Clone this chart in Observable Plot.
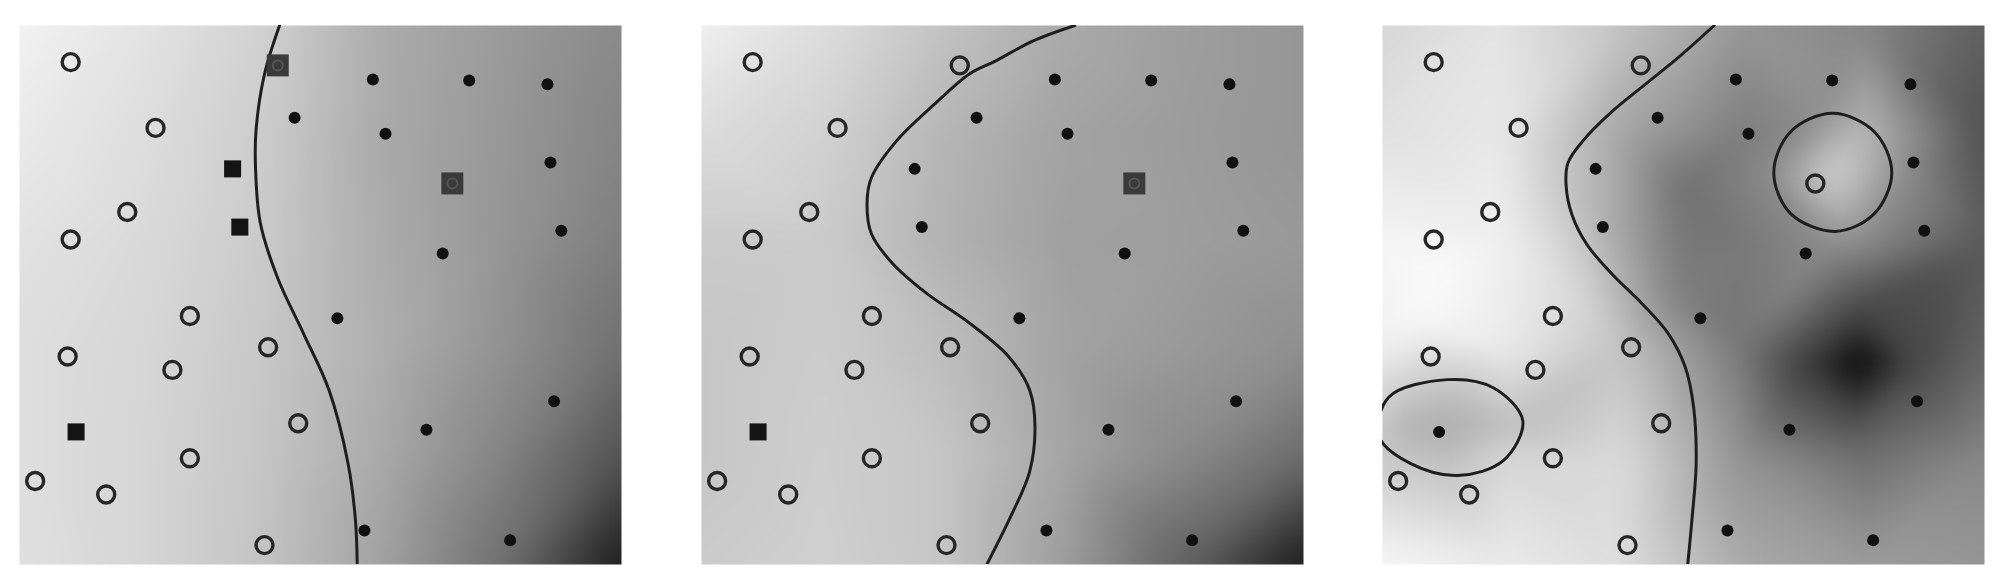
<!DOCTYPE html>
<html lang="en">
<head>
<meta charset="UTF-8">
<title>Decision boundaries</title>
<script src="https://cdn.jsdelivr.net/npm/d3@7"></script>
<script src="https://cdn.jsdelivr.net/npm/@observablehq/plot@0.6"></script>
<style>
  body { margin: 0; background: #fff; }
  #charts { position: relative; width: 2007px; height: 584px; }
  .panel { position: absolute; }
</style>
</head>
<body>
<div id="charts"></div>
<script>
// every panel uses a 0..10 square, y pointing up
const openPts = [
  [0.85, 9.32], [2.26, 8.10], [1.79, 6.54], [0.85, 6.03], [2.83, 4.61],
  [0.80, 3.86], [4.13, 4.03], [2.54, 3.61], [4.63, 2.62], [2.83, 1.97],
  [0.26, 1.55], [1.44, 1.30], [4.07, 0.36], [4.29, 9.26], [7.19, 7.07]
];
const filledPts = [
  [5.87, 9.00], [7.47, 8.98], [8.77, 8.91], [4.57, 8.29], [6.08, 7.99],
  [8.82, 7.46], [9.00, 6.19], [7.03, 5.77], [5.28, 4.57], [8.88, 3.03],
  [6.76, 2.50], [5.73, 0.63], [8.15, 0.45], [3.54, 7.34], [3.66, 6.26],
  [0.94, 2.46]
];

// misclassified points per panel
const wrongOpen = [[[4.29, 9.26], [7.19, 7.07]], [[7.19, 7.07]], []];
const wrongFilled = [[[3.54, 7.34], [3.66, 6.26], [0.94, 2.46]], [[0.94, 2.46]], []];

// decision boundaries
const bound1 = [[4.32, 10], [4.07, 9.10], [3.93, 8.07], [3.92, 7.38], [4.00, 6.34], [4.29, 5.31],
  [4.72, 4.28], [5.14, 3.24], [5.46, 1.86], [5.58, 0.83], [5.61, 0]];
const bound2 = [[6.20, 10], [5.52, 9.72], [4.88, 9.34], [4.45, 9.10], [3.88, 8.55], [3.24, 7.86],
  [2.82, 7.17], [2.75, 6.70], [2.82, 6.14], [3.17, 5.59], [3.74, 5.03], [4.45, 4.48],
  [5.10, 3.86], [5.45, 3.24], [5.54, 2.55], [5.45, 1.72], [5.17, 0.97], [4.74, 0]];
const bound3 = [[5.51, 10], [4.96, 9.45], [4.39, 8.93], [3.82, 8.41], [3.33, 7.86], [3.08, 7.45],
  [3.05, 7.03], [3.15, 6.48], [3.40, 5.93], [3.82, 5.38], [4.32, 4.83], [4.75, 4.28],
  [5.03, 3.66], [5.17, 2.90], [5.21, 1.86], [5.14, 0.83], [5.07, 0]];
const ring3 = [[7.48, 8.37], [8.17, 8.03], [8.46, 7.27], [8.17, 6.51], [7.52, 6.18],
  [6.78, 6.51], [6.50, 7.27], [6.78, 8.03]];
const blob3 = [[1.08, 3.43], [1.84, 3.28], [2.33, 2.67], [2.01, 1.93], [1.25, 1.65],
  [0.47, 1.87], [-0.05, 2.36], [0.10, 3.10]];

// background grey (0 black .. 255 white) sampled on a grid
const gridU = [0, 2, 4, 6, 8, 10];
const gridV = [10, 8, 6, 4, 2, 0];
const shade1 = [
  [242, 228, 210, 172, 155, 138],
  [234, 222, 205, 170, 152, 132],
  [226, 218, 203, 172, 150, 126],
  [222, 215, 200, 175, 146, 112],
  [222, 214, 198, 170, 132, 82],
  [224, 214, 196, 162, 112, 28]
];
const shade2 = [
  [240, 222, 195, 170, 158, 150],
  [220, 210, 182, 163, 156, 150],
  [202, 203, 178, 160, 158, 153],
  [198, 204, 190, 163, 153, 143],
  [198, 206, 198, 166, 138, 108],
  [203, 208, 198, 158, 98, 28]
];
const shade3 = [
  [215, 228, 195, 150, 135, 95],
  [225, 232, 165, 125, 185, 80],
  [245, 240, 165, 120, 140, 90],
  [240, 235, 195, 118, 20, 100],
  [200, 215, 218, 145, 110, 135],
  [248, 235, 222, 170, 155, 150]
];
// extra samples for the third panel
const extra3 = [
  [7.45, 7.2, 210], [6.3, 7.2, 135], [8.7, 7.2, 140], [7.45, 8.5, 145], [7.45, 5.9, 140],
  [5, 7, 112], [7.9, 3.7, 5], [7.0, 3.7, 60], [8.8, 3.7, 70], [7.9, 4.7, 70], [7.9, 2.7, 75],
  [1.15, 2.55, 172], [0.2, 2.55, 180], [2.2, 2.55, 190], [1.15, 3.3, 195], [1.15, 1.8, 195],
  [0.5, 4.5, 248], [1, 5.5, 250], [2.7, 7, 210], [3.3, 5, 215], [5, 5, 125]
];

const panelLeft = [19, 701, 1382];
const panelTop = 25, panelW = 602, panelH = 539, pad = 16;

function samples(shade, extra = []) {
  const out = [];
  gridV.forEach((v, i) => gridU.forEach((u, j) => out.push([u, v, shade[i][j]])));
  return out.concat(extra);
}

const panels = [
  {shade: samples(shade1), bounds: [bound1], closed: []},
  {shade: samples(shade2), bounds: [bound2], closed: []},
  {shade: samples(shade3, extra3), bounds: [bound3], closed: [ring3, blob3]}
];

const root = document.querySelector("#charts");

panels.forEach((p, k) => {
  const plot = Plot.plot({
    width: panelW + 2 * pad,
    height: panelH + 2 * pad,
    margin: pad,
    x: {domain: [0, 10], axis: null},
    y: {domain: [0, 10], axis: null},
    color: {type: "linear", domain: [0, 255], range: ["black", "white"], interpolate: "rgb", clamp: true},
    style: {background: "transparent", overflow: "visible"},
    marks: [
      Plot.raster(p.shade, {
        x: d => d[0], y: d => d[1], fill: d => d[2],
        x1: 0, x2: 10, y1: 0, y2: 10,
        interpolate: "barycentric", blur: 12
      }),
      ...p.closed.map(c => Plot.line(c, {
        x: d => d[0], y: d => d[1], curve: "catmull-rom-closed",
        stroke: "#1e1e1e", strokeWidth: 3, clip: true
      })),
      ...p.bounds.map(b => Plot.line(b, {
        x: d => d[0], y: d => d[1], curve: "catmull-rom",
        stroke: "#1e1e1e", strokeWidth: 3, clip: true
      })),
      Plot.dot(openPts, {x: d => d[0], y: d => d[1], r: 8.5, stroke: "#262626", strokeWidth: 3.4, fill: "none"}),
      Plot.dot(filledPts, {x: d => d[0], y: d => d[1], r: 6, fill: "#111", stroke: "none"}),
      Plot.dot(wrongOpen[k], {x: d => d[0], y: d => d[1], symbol: "square", r: 12.4, fill: "#3a3a3a", stroke: "none"}),
      Plot.dot(wrongOpen[k], {x: d => d[0], y: d => d[1], r: 5, stroke: "#555", strokeWidth: 2, fill: "none"}),
      Plot.dot(wrongFilled[k], {x: d => d[0], y: d => d[1], symbol: "square", r: 9.6, fill: "#141414", stroke: "none"})
    ]
  });
  const div = document.createElement("div");
  div.className = "panel";
  div.style.left = (panelLeft[k] - pad) + "px";
  div.style.top = (panelTop - pad) + "px";
  div.append(plot);
  root.append(div);
});
</script>
</body>
</html>
